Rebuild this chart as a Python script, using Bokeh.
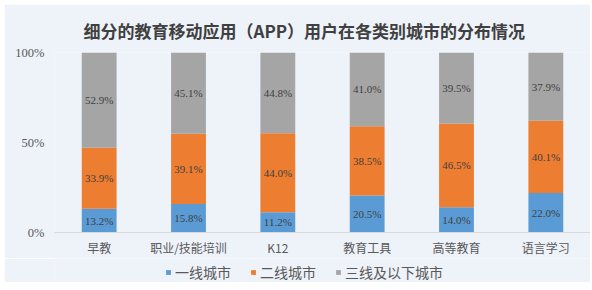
import numpy as np
from bokeh.plotting import figure
from bokeh.layouts import column
from bokeh.models import (FactorRange, Range1d, Legend, LegendItem, ColumnDataSource,
                          FixedTicker)
from bokeh.embed import file_html
from bokeh.resources import INLINE
from bokeh.core.properties import value

# ---- data ----
categories = ["早教", "职业/技能培训", "K12", "教育工具", "高等教育", "语言学习"]
tier1 = [13.2, 15.8, 11.2, 20.5, 14.0, 22.0]
tier2 = [33.9, 39.1, 44.0, 38.5, 46.5, 40.1]
tier3 = [52.9, 45.1, 44.8, 41.0, 39.5, 37.9]
series_names = ["一线城市", "二线城市", "三线及以下城市"]
title_text = "细分的教育移动应用（APP）用户在各类别城市的分布情况"
y_ticks = [0, 50, 100]
y_tick_labels = {0: "0%", 50: "50%", 100: "100%"}

colors = ["#5b9bd5", "#ed7d31", "#a5a5a5"]
bg = "#eef2f9"
text_col = "#595959"

source = ColumnDataSource(dict(cat=categories, t1=tier1, t2=tier2, t3=tier3))

p = figure(x_range=FactorRange(factors=categories), y_range=Range1d(0, 100),
           width=586, height=254, margin=(4, 2, 0, 4),
           output_backend="svg", toolbar_location=None,
           min_border_left=50, min_border_right=0, min_border_top=48, min_border_bottom=25,
           background_fill_color=bg, border_fill_color=bg, outline_line_color=None)

renderers = p.vbar_stack(["t1", "t2", "t3"], x="cat", width=0.39, color=colors,
                         line_color=None, source=source)

# value labels at segment centres
vals = [tier1, tier2, tier3]
lx, ly, lt = [], [], []
cum = np.zeros(len(categories))
for series in vals:
    arr = np.array(series)
    centers = cum + arr / 2
    for c, yc, v in zip(categories, centers, arr):
        lx.append(c)
        ly.append(float(yc))
        lt.append(f"{v:.1f}%")
    cum = cum + arr
p.text(x=lx, y=ly, text=lt, text_align="center", text_baseline="middle",
       text_font=value("Liberation Serif"), text_font_size="11px", text_color="#404040")

# axes
p.xgrid.visible = False
p.ygrid.visible = False
xa = p.xaxis[0]
xa.axis_line_color = "#d9d9d9"
xa.major_tick_line_color = None
xa.minor_tick_line_color = None
xa.major_tick_out = 0
xa.major_tick_in = 0
xa.major_label_text_font = "Noto Sans CJK SC"
xa.major_label_text_font_size = "12px"
xa.major_label_text_color = text_col
xa.major_label_standoff = 6

ya = p.yaxis[0]
ya.ticker = FixedTicker(ticks=y_ticks)
ya.major_label_overrides = y_tick_labels
ya.axis_line_color = None
ya.major_tick_line_color = None
ya.minor_tick_line_color = None
ya.major_tick_out = 0
ya.major_tick_in = 0
ya.major_label_text_font = "Liberation Serif"
ya.major_label_text_font_size = "12.5px"
ya.major_label_text_color = text_col
ya.major_label_standoff = 10

# title
p.title.text = title_text
p.title.align = "left"
p.title.offset = 29
p.title.vertical_align = "top"
p.title.text_font = "Noto Sans CJK SC"
p.title.text_font_size = "17px"
p.title.text_font_style = "bold"
p.title.text_color = "#404040"
p.title.standoff = 15

# legend strip below the chart
p2 = figure(width=586, height=24, margin=(0, 2, 8, 4), x_range=Range1d(0, 1),
            y_range=Range1d(0, 1), x_axis_type=None, y_axis_type=None,
            output_backend="svg", toolbar_location=None, min_border=0,
            background_fill_color=bg, border_fill_color=bg, outline_line_color=None)
p2.xgrid.visible = False
p2.ygrid.visible = False
leg_renderers = [p2.vbar(x=[0.5], top=[0], width=0, color=c, line_color=None) for c in colors]
items = [LegendItem(label=n, renderers=[r]) for n, r in zip(series_names, leg_renderers)]
legend = Legend(items=items, orientation="horizontal", location=(111, 0),
                glyph_width=6, glyph_height=6, label_standoff=4, spacing=19,
                label_height=16, padding=0, margin=0, border_line_color=None,
                background_fill_alpha=0,
                label_text_font="Noto Sans CJK SC", label_text_font_size="14px",
                label_text_color=text_col)
p2.add_layout(legend, "center")

layout = column(p, p2, spacing=0)
open("out.html", "w").write(file_html(layout, INLINE))
